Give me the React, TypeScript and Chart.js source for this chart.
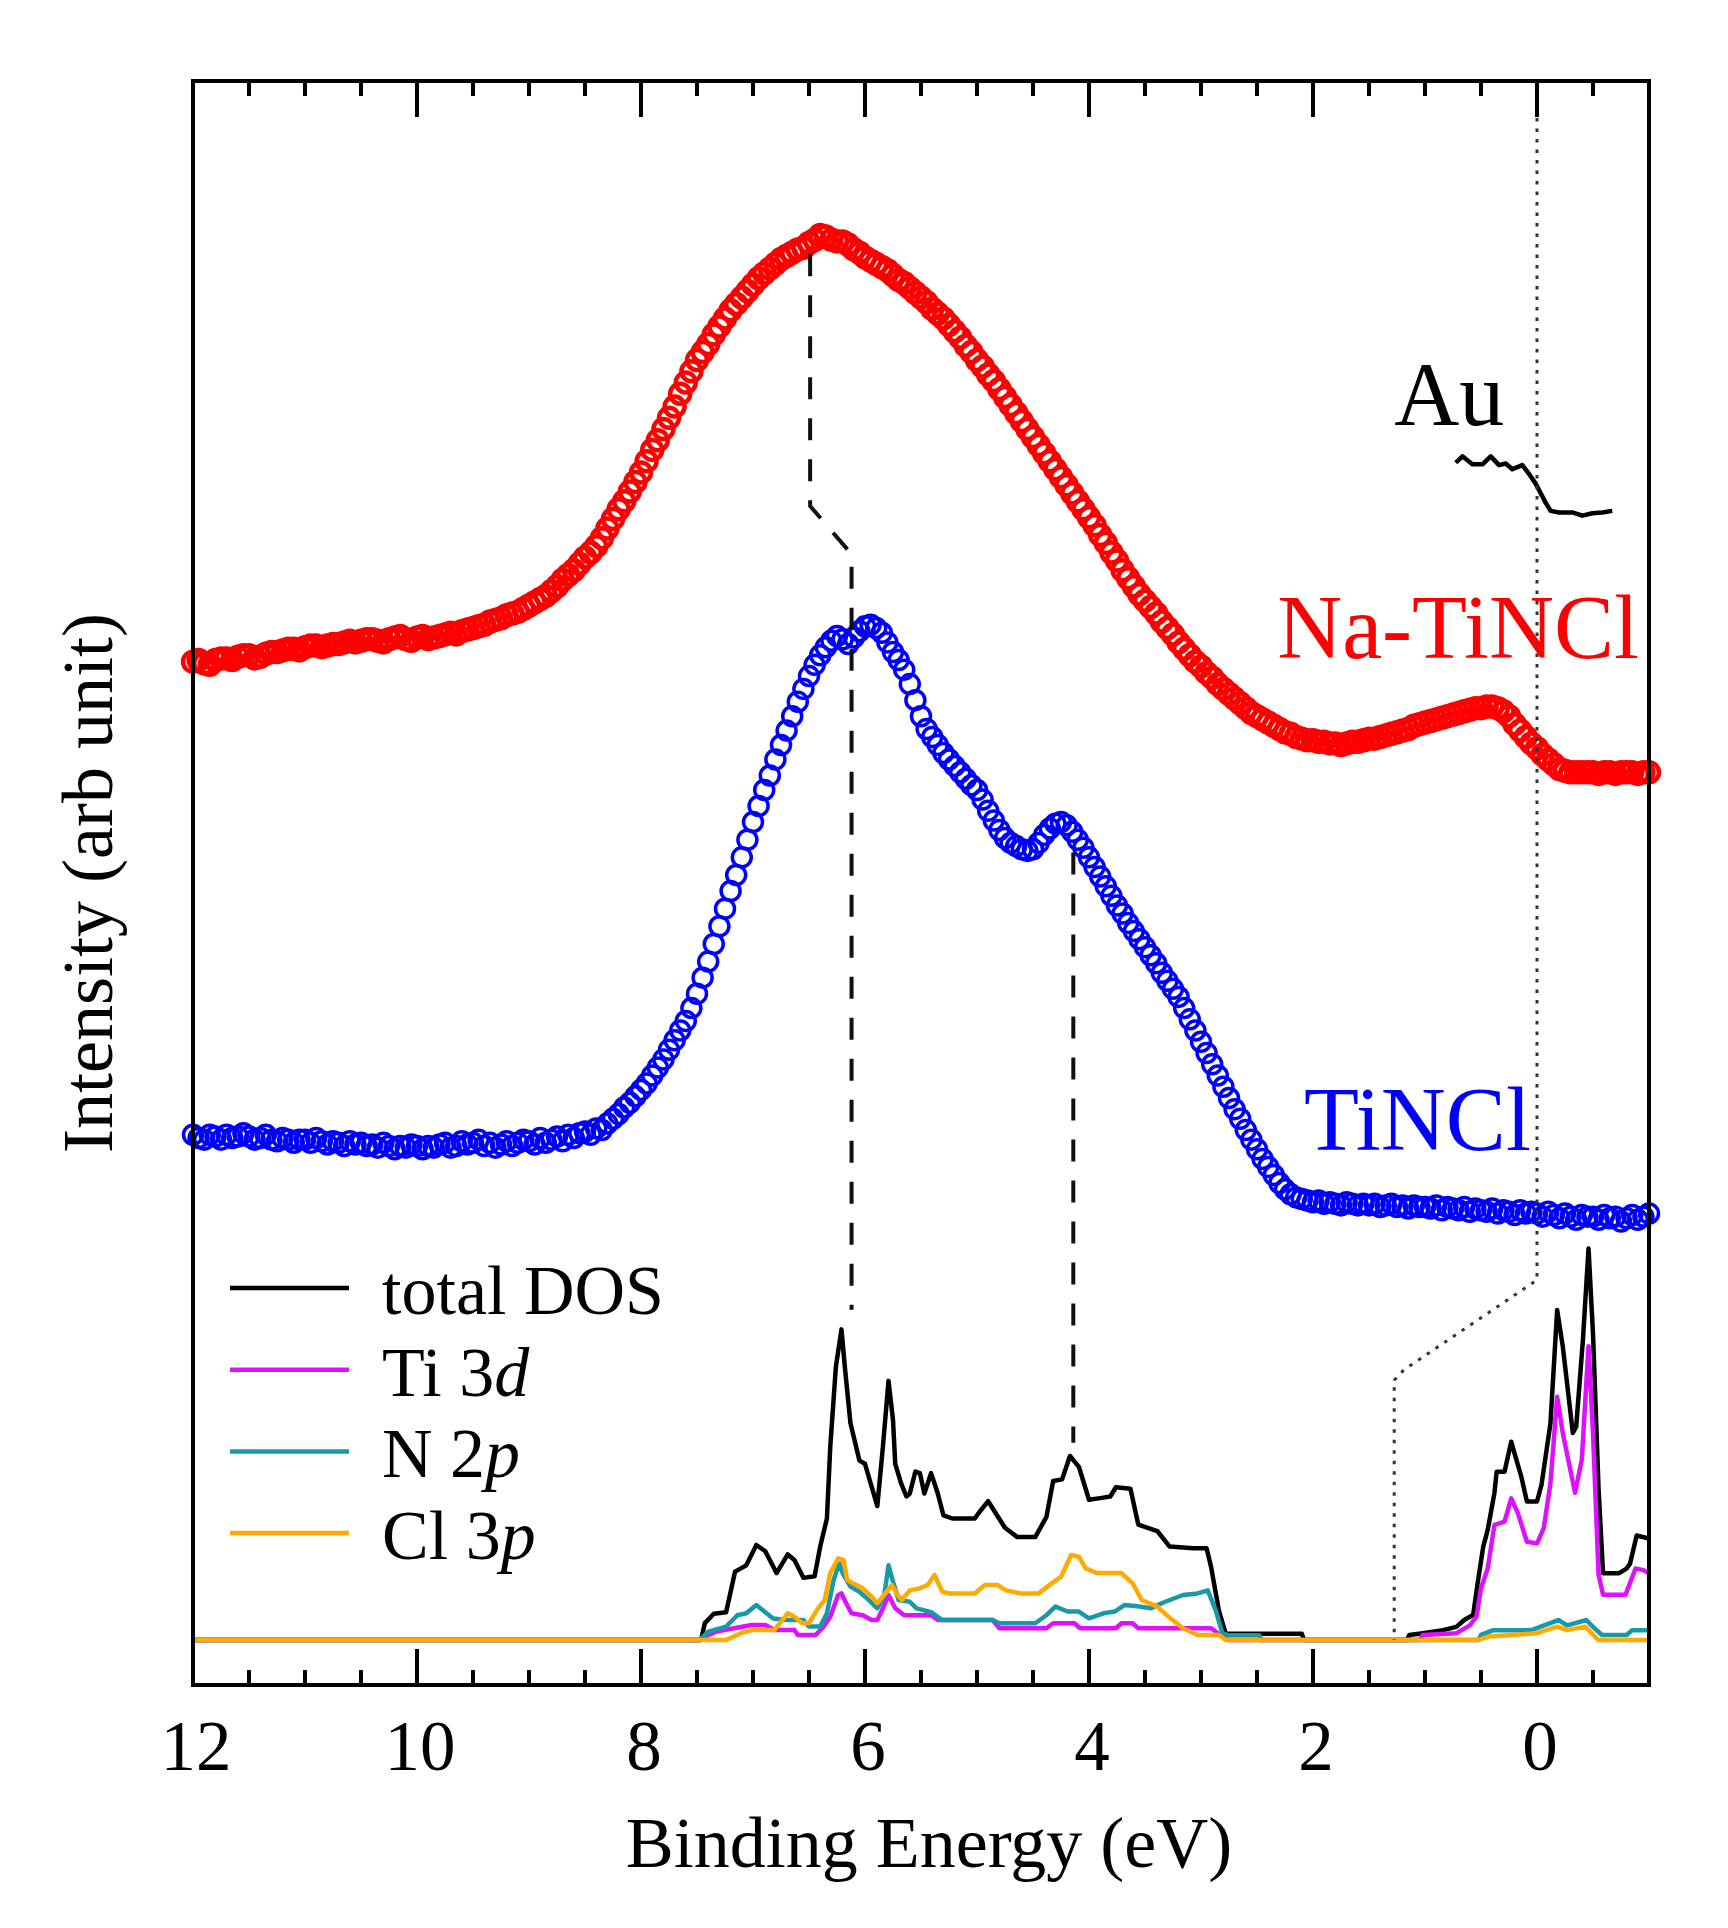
import { useEffect, useRef } from "react"
import { Chart, registerables } from "chart.js"
import type { Plugin } from "chart.js"

Chart.register(...registerables)

// binding energy grid of the XPS spectra (eV)
const xpsEnergy = [
  12, 11.95, 11.9, 11.85, 11.8, 11.75, 11.7, 11.65, 11.6, 11.55,
  11.5, 11.45, 11.4, 11.35, 11.3, 11.25, 11.2, 11.15, 11.1, 11.05,
  11, 10.95, 10.9, 10.85, 10.8, 10.75, 10.7, 10.65, 10.6, 10.55,
  10.5, 10.45, 10.4, 10.35, 10.3, 10.25, 10.2, 10.15, 10.1, 10.05,
  10, 9.95, 9.9, 9.85, 9.8, 9.75, 9.7, 9.65, 9.6, 9.55,
  9.5, 9.45, 9.4, 9.35, 9.3, 9.25, 9.2, 9.15, 9.1, 9.05,
  9, 8.95, 8.9, 8.85, 8.8, 8.75, 8.7, 8.65, 8.6, 8.55,
  8.5, 8.45, 8.4, 8.35, 8.3, 8.25, 8.2, 8.15, 8.1, 8.05,
  8, 7.95, 7.9, 7.85, 7.8, 7.75, 7.7, 7.65, 7.6, 7.55,
  7.5, 7.45, 7.4, 7.35, 7.3, 7.25, 7.2, 7.15, 7.1, 7.05,
  7, 6.95, 6.9, 6.85, 6.8, 6.75, 6.7, 6.65, 6.6, 6.55,
  6.5, 6.45, 6.4, 6.35, 6.3, 6.25, 6.2, 6.15, 6.1, 6.05,
  6, 5.95, 5.9, 5.85, 5.8, 5.75, 5.7, 5.65, 5.6, 5.55,
  5.5, 5.45, 5.4, 5.35, 5.3, 5.25, 5.2, 5.15, 5.1, 5.05,
  5, 4.95, 4.9, 4.85, 4.8, 4.75, 4.7, 4.65, 4.6, 4.55,
  4.5, 4.45, 4.4, 4.35, 4.3, 4.25, 4.2, 4.15, 4.1, 4.05,
  4, 3.95, 3.9, 3.85, 3.8, 3.75, 3.7, 3.65, 3.6, 3.55,
  3.5, 3.45, 3.4, 3.35, 3.3, 3.25, 3.2, 3.15, 3.1, 3.05,
  3, 2.95, 2.9, 2.85, 2.8, 2.75, 2.7, 2.65, 2.6, 2.55,
  2.5, 2.45, 2.4, 2.35, 2.3, 2.25, 2.2, 2.15, 2.1, 2.05,
  2, 1.95, 1.9, 1.85, 1.8, 1.75, 1.7, 1.65, 1.6, 1.55,
  1.5, 1.45, 1.4, 1.35, 1.3, 1.25, 1.2, 1.15, 1.1, 1.05,
  1, 0.95, 0.9, 0.85, 0.8, 0.75, 0.7, 0.65, 0.6, 0.55,
  0.5, 0.45, 0.4, 0.35, 0.3, 0.25, 0.2, 0.15, 0.1, 0.05,
  0, -0.05, -0.1, -0.15, -0.2, -0.25, -0.3, -0.35, -0.4, -0.45,
  -0.5, -0.55, -0.6, -0.65, -0.7, -0.75, -0.8, -0.85, -0.9, -0.95,
  -1,
]

// Na-TiNCl intensity (offset, arb. unit)
const naTiNCl = [
  63.8, 63.9, 63.7, 63.6, 63.9, 64.0, 64.0, 63.9, 64.1, 64.2,
  64.2, 64.0, 64.1, 64.3, 64.4, 64.4, 64.5, 64.6, 64.6, 64.5,
  64.7, 64.8, 64.8, 64.7, 64.8, 64.9, 64.9, 65.0, 65.1, 65.0,
  65.1, 65.2, 65.2, 65.1, 65.0, 65.2, 65.3, 65.4, 65.2, 65.1,
  65.3, 65.4, 65.2, 65.3, 65.4, 65.5, 65.6, 65.5, 65.7, 65.8,
  65.9, 66.0, 66.1, 66.3, 66.4, 66.5, 66.7, 66.8, 66.9, 67.1,
  67.3, 67.5, 67.7, 67.9, 68.2, 68.5, 68.9, 69.2, 69.5, 69.9,
  70.3, 70.6, 71.0, 71.5, 72.1, 72.7, 73.3, 73.8, 74.4, 75.0,
  75.6, 76.3, 77.0, 77.6, 78.3, 79.0, 79.7, 80.5, 81.2, 81.9,
  82.6, 83.1, 83.6, 84.2, 84.7, 85.2, 85.7, 86.1, 86.5, 86.9,
  87.3, 87.7, 88.0, 88.3, 88.6, 88.9, 89.1, 89.3, 89.5, 89.6,
  89.9, 90.1, 90.4, 90.3, 90.1, 90.0, 90.0, 89.8, 89.5, 89.3,
  89.0, 88.8, 88.6, 88.4, 88.2, 87.9, 87.6, 87.4, 87.1, 86.8,
  86.5, 86.2, 85.8, 85.5, 85.2, 84.8, 84.4, 84.0, 83.5, 83.1,
  82.6, 82.2, 81.7, 81.3, 80.8, 80.3, 79.8, 79.3, 78.8, 78.3,
  77.8, 77.3, 76.8, 76.3, 75.8, 75.3, 74.8, 74.3, 73.8, 73.3,
  72.8, 72.3, 71.7, 71.2, 70.6, 70.1, 69.5, 69.0, 68.5, 68.0,
  67.6, 67.2, 66.8, 66.3, 65.9, 65.5, 65.0, 64.6, 64.2, 63.8,
  63.5, 63.1, 62.8, 62.4, 62.1, 61.8, 61.5, 61.2, 60.9, 60.6,
  60.4, 60.2, 60.0, 59.8, 59.6, 59.4, 59.3, 59.1, 59.0, 58.9,
  58.9, 58.8, 58.8, 58.7, 58.7, 58.6, 58.7, 58.8, 58.8, 58.9,
  59.0, 59.0, 59.1, 59.2, 59.3, 59.4, 59.5, 59.6, 59.8, 59.9,
  60.0, 60.1, 60.2, 60.3, 60.4, 60.5, 60.6, 60.7, 60.8, 60.9,
  60.9, 61.0, 61.0, 60.9, 60.7, 60.4, 59.9, 59.5, 59.1, 58.7,
  58.4, 58.0, 57.7, 57.4, 57.1, 57.0, 56.9, 56.9, 56.9, 56.9,
  56.9, 56.8, 56.9, 56.9, 56.8, 56.9, 56.9, 56.9, 56.8, 56.9,
  56.9,
]

// TiNCl intensity (offset, arb. unit)
const tiNCl = [
  34.3, 34.1, 34.0, 34.3, 34.2, 34.0, 34.3, 34.1, 34.2, 34.4,
  34.2, 34.0, 34.1, 34.3, 34.0, 33.9, 34.1, 34.0, 33.8, 34.0,
  34.0, 33.8, 34.1, 33.9, 33.7, 33.9, 33.8, 33.6, 33.9, 33.7,
  33.8, 33.6, 33.7, 33.5, 33.8, 33.6, 33.4, 33.6, 33.5, 33.7,
  33.6, 33.4, 33.6, 33.5, 33.7, 33.8, 33.5, 33.6, 33.9, 33.7,
  33.8, 34.0, 33.6, 33.8, 33.5, 33.7, 33.9, 33.6, 33.8, 34.0,
  33.9, 33.7, 34.1, 33.8, 34.0, 34.2, 33.9, 34.3, 34.1, 34.4,
  34.5, 34.3, 34.7, 34.6, 35.0, 35.3, 35.6, 36.0, 36.3, 36.7,
  37.1, 37.5, 38.0, 38.5, 39.0, 39.6, 40.2, 40.8, 41.4, 42.2,
  43.1, 44.1, 45.1, 46.2, 47.3, 48.4, 49.5, 50.5, 51.6, 52.7,
  53.8, 54.8, 55.8, 56.7, 57.7, 58.6, 59.5, 60.4, 61.3, 62.1,
  62.9, 63.6, 64.2, 64.7, 65.1, 65.4, 65.2, 64.9, 65.3, 65.7,
  66.0, 66.1, 65.9, 65.6, 65.0, 64.4, 63.9, 63.3, 62.4, 61.4,
  60.4, 59.6, 59.1, 58.6, 58.1, 57.7, 57.3, 56.9, 56.5, 56.1,
  55.8, 55.2, 54.5, 53.9, 53.3, 52.8, 52.5, 52.3, 52.1, 52.0,
  52.1, 52.5, 53.0, 53.4, 53.7, 53.8, 53.6, 53.2, 52.7, 52.2,
  51.6, 51.0, 50.4, 49.8, 49.2, 48.6, 48.1, 47.5, 47.0, 46.5,
  46.0, 45.5, 45.0, 44.4, 43.9, 43.4, 42.9, 42.2, 41.5, 40.8,
  40.1, 39.4, 38.7, 38.0, 37.3, 36.6, 35.9, 35.3, 34.6, 34.0,
  33.4, 32.8, 32.3, 31.8, 31.3, 30.9, 30.6, 30.4, 30.3, 30.2,
  30.1, 30.2, 30.0, 30.1, 30.0, 29.9, 30.1, 30.0, 29.9, 30.0,
  29.9, 30.0, 29.8, 29.9, 30.0, 29.8, 29.9, 29.7, 29.9, 29.8,
  29.8, 29.7, 29.9, 29.6, 29.8, 29.7, 29.6, 29.8, 29.5, 29.7,
  29.6, 29.5, 29.7, 29.4, 29.6, 29.5, 29.3, 29.6, 29.4, 29.5,
  29.4, 29.2, 29.5, 29.3, 29.1, 29.4, 29.2, 29.0, 29.3, 29.2,
  29.2, 29.0, 29.3, 29.1, 29.2, 28.9, 29.1, 29.3, 29.0, 29.2,
  29.4,
]

// Au Fermi edge reference [eV, intensity]
const auEdge = [
  [0.725, 76.2], [0.666, 76.6], [0.577, 76.1], [0.487, 76.1], [0.413, 76.6],
  [0.339, 76.05], [0.279, 76.15], [0.22, 75.8], [0.131, 76.05], [0.071, 75.5],
  [0.012, 74.9], [-0.033, 74.3], [-0.078, 73.7], [-0.122, 73.2], [-0.197, 73.1],
  [-0.316, 73.1], [-0.405, 72.9], [-0.494, 73.05], [-0.583, 73.1], [-0.672, 73.2],
]

// calculated DOS [eV, intensity]
const totalDos = [
  [12, 2.81], [7.47, 2.81], [7.46, 2.91], [7.43, 3.86], [7.35, 4.44], [7.24, 4.54],
  [7.16, 7.07], [7.06, 7.46], [6.97, 8.73], [6.89, 8.34], [6.79, 6.98], [6.69, 8.14],
  [6.63, 7.79], [6.55, 6.68], [6.45, 6.78], [6.4, 8.63], [6.34, 10.38], [6.31, 14.86],
  [6.26, 19.83], [6.21, 22.17], [6.18, 19.83], [6.13, 16.33], [6.05, 13.99], [6.0, 13.79],
  [5.96, 12.82], [5.89, 11.16], [5.84, 14.86], [5.79, 18.96], [5.75, 16.52], [5.73, 13.79],
  [5.68, 12.62], [5.63, 11.75], [5.6, 11.94], [5.55, 13.31], [5.51, 13.21], [5.47, 11.94],
  [5.41, 13.21], [5.35, 11.94], [5.3, 10.58], [5.22, 10.38], [5.02, 10.38], [4.98, 10.77],
  [4.9, 11.46], [4.83, 10.68], [4.75, 9.8], [4.64, 9.22], [4.48, 9.22], [4.38, 10.48],
  [4.32, 12.72], [4.24, 12.82], [4.17, 14.28], [4.09, 13.6], [4.0, 11.55], [3.9, 11.65],
  [3.81, 11.75], [3.76, 12.33], [3.63, 12.23], [3.56, 10.0], [3.39, 9.6], [3.28, 8.63],
  [3.07, 8.53], [2.95, 8.53], [2.91, 7.36], [2.84, 4.64], [2.78, 3.2], [2.1, 3.2],
  [2.08, 2.81], [1.16, 2.81], [1.14, 3.12], [1.02, 3.23], [0.84, 3.42], [0.72, 3.62],
  [0.65, 4.05], [0.57, 4.37], [0.53, 6.34], [0.48, 8.63], [0.44, 9.67], [0.38, 11.98],
  [0.36, 13.3], [0.29, 13.3], [0.23, 15.17], [0.2, 14.43], [0.14, 12.99], [0.09, 11.44],
  [0.0, 11.44], [-0.04, 12.47], [-0.12, 16.3], [-0.18, 23.38], [-0.23, 21.12], [-0.32, 15.71],
  [-0.35, 16.1], [-0.41, 21.51], [-0.46, 27.21], [-0.5, 21.9], [-0.55, 12.16], [-0.59, 6.96],
  [-0.73, 6.96], [-0.8, 7.26], [-0.83, 7.55], [-0.89, 9.32], [-1.0, 9.13],
]

const ti3d = [
  [12, 2.81], [7.47, 2.81], [7.46, 2.91], [7.33, 3.33], [7.01, 3.74], [6.89, 3.74],
  [6.81, 3.43], [6.63, 3.43], [6.6, 3.12], [6.44, 3.12], [6.37, 3.64], [6.31, 4.25],
  [6.24, 5.61], [6.21, 5.71], [6.16, 4.99], [6.12, 4.47], [6.02, 4.35], [5.94, 4.05],
  [5.89, 4.05], [5.84, 4.78], [5.79, 5.61], [5.73, 4.78], [5.65, 4.35], [5.41, 4.35],
  [5.35, 4.05], [4.86, 4.05], [4.8, 3.54], [4.38, 3.54], [4.32, 3.85], [4.13, 3.85],
  [4.08, 3.54], [3.76, 3.54], [3.71, 3.85], [3.61, 3.85], [3.56, 3.54], [2.91, 3.54],
  [2.81, 3.02], [2.75, 2.81], [1.05, 2.81], [1.02, 3.12], [0.72, 3.23], [0.6, 3.72],
  [0.54, 4.26], [0.5, 6.03], [0.44, 7.26], [0.38, 9.98], [0.29, 10.19], [0.23, 11.64],
  [0.17, 10.7], [0.09, 8.93], [0.0, 8.83], [-0.06, 9.77], [-0.12, 12.57], [-0.18, 17.97],
  [-0.23, 15.71], [-0.34, 11.98], [-0.4, 14.04], [-0.46, 21.12], [-0.5, 15.71], [-0.55, 6.86],
  [-0.59, 5.62], [-0.79, 5.62], [-0.88, 7.26], [-0.95, 7.16], [-1.0, 6.96],
]

const n2p = [
  [12, 2.81], [7.47, 2.81], [7.46, 2.91], [7.4, 3.33], [7.24, 3.64], [7.14, 4.35],
  [7.06, 4.47], [6.97, 4.99], [6.89, 4.54], [6.82, 4.15], [6.69, 4.05], [6.55, 4.05],
  [6.5, 3.64], [6.4, 3.64], [6.34, 4.47], [6.28, 6.55], [6.23, 7.59], [6.2, 6.98],
  [6.13, 6.14], [6.05, 5.81], [5.97, 5.32], [5.89, 4.78], [5.83, 5.51], [5.79, 7.46],
  [5.75, 6.45], [5.7, 5.3], [5.6, 5.19], [5.54, 4.78], [5.41, 4.54], [5.31, 4.05],
  [4.86, 4.05], [4.8, 3.85], [4.48, 3.85], [4.38, 4.35], [4.3, 4.89], [4.19, 4.58],
  [4.09, 4.58], [4.0, 4.16], [3.87, 4.47], [3.77, 4.58], [3.68, 4.99], [3.55, 4.89],
  [3.45, 4.78], [3.32, 5.19], [3.16, 5.61], [3.03, 5.71], [2.94, 5.9], [2.87, 4.68],
  [2.81, 3.23], [2.75, 3.1], [2.48, 3.1], [2.46, 2.81], [0.52, 2.81], [0.5, 3.12],
  [0.39, 3.42], [0.05, 3.42], [-0.19, 4.05], [-0.27, 3.72], [-0.44, 4.05], [-0.5, 3.62],
  [-0.58, 3.12], [-0.8, 3.12], [-0.85, 3.42], [-1.0, 3.42],
]

const cl3p = [
  [12, 2.81], [7.24, 2.81], [7.11, 3.23], [7.01, 3.43], [6.81, 3.43], [6.69, 4.47],
  [6.63, 4.25], [6.56, 3.85], [6.5, 3.85], [6.42, 4.78], [6.36, 5.3], [6.31, 6.98],
  [6.24, 7.9], [6.19, 7.79], [6.16, 6.55], [6.11, 6.34], [6.02, 6.03], [5.94, 5.51],
  [5.89, 5.1], [5.83, 5.61], [5.76, 6.24], [5.71, 5.61], [5.67, 5.3], [5.6, 5.9],
  [5.51, 6.03], [5.44, 6.24], [5.38, 6.86], [5.31, 5.81], [5.25, 5.71], [5.02, 5.71],
  [4.93, 6.24], [4.82, 6.24], [4.74, 5.9], [4.61, 5.71], [4.45, 5.71], [4.35, 6.24],
  [4.25, 6.75], [4.16, 8.1], [4.09, 8.0], [4.03, 7.27], [3.93, 6.98], [3.71, 6.98],
  [3.61, 6.34], [3.53, 5.3], [3.39, 4.89], [3.29, 4.25], [3.16, 3.54], [3.03, 3.12],
  [2.84, 3.12], [2.78, 2.81], [0.52, 2.81], [0.43, 3.02], [0.0, 3.23], [-0.18, 3.64],
  [-0.27, 3.42], [-0.43, 3.64], [-0.55, 2.8], [-1.0, 2.8],
]

// guide lines linking spectral features to DOS peaks
const peakGuideA = [[6.49, 89.2], [6.49, 73.5], [6.12, 70.5], [6.12, 23.4]]
const peakGuideB = [[4.14, 51.9], [4.14, 15.1]]
const fermiGuide = [[0, 97.7], [0, 25.25], [1.19, 19.64], [1.275, 19.0], [1.275, 2.8]]

const majorTicks = [12, 10, 8, 6, 4, 2, 0]
const tickLabels = ["12", "10", "8", "6", "4", "2", "0"]
const minorTicks = [11.5, 11, 10.5, 9.5, 9, 8.5, 7.5, 7, 6.5, 5.5, 5, 4.5, 3.5, 3, 2.5, 1.5, 1, 0.5, -0.5]

const legendItems = [
  { name: "total DOS", base: "total DOS", italic: "", color: "#000000" },
  { name: "Ti 3d", base: "Ti 3", italic: "d", color: "#dd11ff" },
  { name: "N 2p", base: "N 2", italic: "p", color: "#1899a8" },
  { name: "Cl 3p", base: "Cl 3", italic: "p", color: "#ffaa00" },
]

const seriesLabels = [
  { text: "Au", x: 1.275, y: 78.55, color: "#000000" },
  { text: "Na-TiNCl", x: 2.32, y: 64.0, color: "#ff0000" },
  { text: "TiNCl", x: 2.08, y: 33.35, color: "#0000ff" },
]

const SERIF = "'Liberation Serif', 'Times New Roman', serif"

const pairs = (list: number[][]) => list.map(([x, y]) => ({ x, y }))
const spectrum = (values: number[]) => xpsEnergy.map((x, i) => ({ x, y: values[i] }))

const decorations: Plugin<"scatter"> = {
  id: "decorations",
  afterDatasetsDraw(chart) {
    const { ctx, chartArea: a } = chart
    const xs = chart.scales.x
    const ys = chart.scales.y
    ctx.save()

    // inward ticks on bottom and top
    ctx.strokeStyle = "#000"
    ctx.lineWidth = 4
    ctx.lineCap = "butt"
    const drawTick = (v: number, len: number) => {
      const px = xs.getPixelForValue(v)
      ctx.beginPath()
      ctx.moveTo(px, a.bottom)
      ctx.lineTo(px, a.bottom - len)
      ctx.moveTo(px, a.top)
      ctx.lineTo(px, a.top + len)
      ctx.stroke()
    }
    majorTicks.forEach((v) => drawTick(v, 36))
    minorTicks.forEach((v) => drawTick(v, 15))

    // frame
    ctx.lineJoin = "miter"
    ctx.strokeRect(a.left, a.top, a.right - a.left, a.bottom - a.top)

    // tick labels
    ctx.fillStyle = "#000"
    ctx.font = `71px ${SERIF}`
    ctx.textAlign = "center"
    ctx.textBaseline = "alphabetic"
    majorTicks.forEach((v, i) => {
      ctx.fillText(tickLabels[i], xs.getPixelForValue(v) + 3, a.bottom + 85)
    })

    // axis titles
    ctx.font = `72px ${SERIF}`
    ctx.fillText("Binding Energy (eV)", (a.left + a.right) / 2 + 8, a.bottom + 182)
    ctx.save()
    ctx.translate(a.left - 81, (a.top + a.bottom) / 2)
    ctx.rotate(-Math.PI / 2)
    ctx.fillText("Intensity (arb unit)", 0, 0)
    ctx.restore()

    // series labels
    ctx.textAlign = "left"
    ctx.font = `90px ${SERIF}`
    seriesLabels.forEach((l) => {
      ctx.fillStyle = l.color
      ctx.fillText(l.text, xs.getPixelForValue(l.x), ys.getPixelForValue(l.y))
    })

    // legend
    legendItems.forEach((item, i) => {
      const rowY = a.top + 1207 + i * 81.7
      ctx.strokeStyle = item.color
      ctx.lineWidth = 4.5
      ctx.beginPath()
      ctx.moveTo(a.left + 37, rowY)
      ctx.lineTo(a.left + 156, rowY)
      ctx.stroke()
      ctx.fillStyle = "#000"
      ctx.font = `70px ${SERIF}`
      const tx = a.left + 189
      ctx.fillText(item.base, tx, rowY + 26)
      if (item.italic) {
        const w = ctx.measureText(item.base).width
        ctx.font = `italic 70px ${SERIF}`
        ctx.fillText(item.italic, tx + w, rowY + 26)
      }
    })

    ctx.restore()
  },
}

export default function App() {
  const chartRef = useRef<HTMLCanvasElement>(null)
  const chartInstance = useRef<Chart | null>(null)

  useEffect(() => {
    if (!chartRef.current) return
    if (chartInstance.current) {
      chartInstance.current.destroy()
    }
    const ctx = chartRef.current.getContext("2d")
    if (!ctx) return

    const dosLine = (label: string, data: number[][], color: string, order: number) => ({
      label,
      data: pairs(data),
      showLine: true,
      borderColor: color,
      borderWidth: 4.5,
      borderJoinStyle: "round" as const,
      pointRadius: 0,
      tension: 0,
      order,
    })

    chartInstance.current = new Chart(ctx, {
      type: "scatter",
      data: {
        datasets: [
          {
            label: "guide A",
            data: pairs(peakGuideA),
            showLine: true,
            borderColor: "#111",
            borderWidth: 4,
            borderDash: [22, 19],
            pointRadius: 0,
            order: 0,
          },
          {
            label: "guide B",
            data: pairs(peakGuideB),
            showLine: true,
            borderColor: "#111",
            borderWidth: 4,
            borderDash: [22, 19],
            pointRadius: 0,
            order: 0,
          },
          {
            label: "Fermi level",
            data: pairs(fermiGuide),
            showLine: true,
            borderColor: "#333",
            borderWidth: 3,
            borderDash: [3.5, 7],
            pointRadius: 0,
            order: 0,
          },
          dosLine("Au", auEdge, "#000000", 1),
          dosLine("Cl 3p", cl3p, legendItems[3].color, 2),
          dosLine("N 2p", n2p, legendItems[2].color, 3),
          dosLine("Ti 3d", ti3d, legendItems[1].color, 4),
          dosLine("total DOS", totalDos, legendItems[0].color, 5),
          {
            label: "Na-TiNCl",
            data: spectrum(naTiNCl),
            showLine: false,
            pointStyle: "circle",
            pointRadius: 10,
            pointBorderWidth: 4.5,
            pointBorderColor: "#ff0000",
            pointBackgroundColor: "rgba(255,255,255,0)",
            clip: false,
            order: 6,
          },
          {
            label: "TiNCl",
            data: spectrum(tiNCl),
            showLine: false,
            pointStyle: "circle",
            pointRadius: 9.5,
            pointBorderWidth: 3.5,
            pointBorderColor: "#0000ff",
            pointBackgroundColor: "rgba(255,255,255,0)",
            clip: false,
            order: 6,
          },
        ],
      },
      options: {
        animation: false,
        responsive: true,
        maintainAspectRatio: false,
        layout: { padding: { left: 193, right: 79, top: 81, bottom: 243 } },
        scales: {
          x: { type: "linear", min: -1, max: 12, reverse: true, display: false },
          y: { type: "linear", min: 0, max: 100, display: false },
        },
        plugins: {
          legend: { display: false },
          tooltip: { enabled: false },
        },
      },
      plugins: [decorations],
    })

    return () => {
      if (chartInstance.current) {
        chartInstance.current.destroy()
        chartInstance.current = null
      }
    }
  }, [])

  return (
    <div style={{ position: "absolute", left: 0, top: 0, width: 1728, height: 1928, background: "#fff" }}>
      <canvas ref={chartRef} />
    </div>
  )
}
